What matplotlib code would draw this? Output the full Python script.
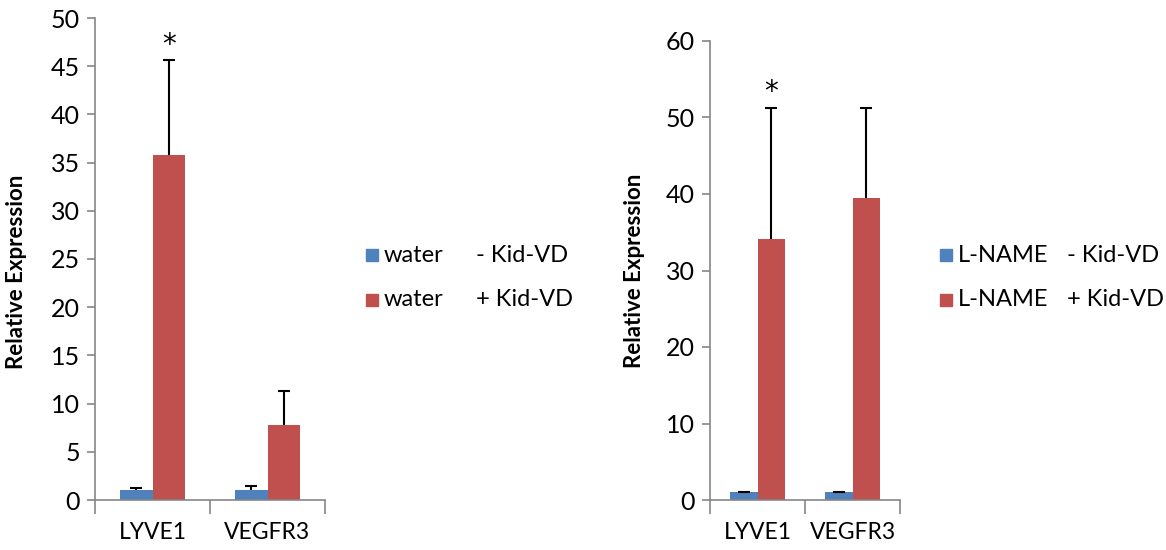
import matplotlib
matplotlib.use("Agg")
import matplotlib.pyplot as plt
from matplotlib.patches import Rectangle
import numpy as np

plt.rcParams['font.family'] = ['Lato', 'DejaVu Sans']

categories = ["LYVE1", "VEGFR3"]

# Left panel (water)
left_series = ["water", "water"]
left_cond = ["- Kid-VD", "+ Kid-VD"]
left_minus = [1.0, 1.0]
left_minus_err = [0.2, 0.5]
left_plus = [35.8, 7.8]
left_plus_err = [9.8, 3.5]
left_yticks = [0, 5, 10, 15, 20, 25, 30, 35, 40, 45, 50]
left_star = [True, False]

# Right panel (L-NAME)
right_series = ["L-NAME", "L-NAME"]
right_cond = ["- Kid-VD", "+ Kid-VD"]
right_minus = [1.0, 1.0]
right_minus_err = [0.05, 0.05]
right_plus = [34.1, 39.5]
right_plus_err = [17.2, 11.8]
right_yticks = [0, 10, 20, 30, 40, 50, 60]
right_star = [True, False]

BLUE = "#4F81BD"
RED = "#C0504D"
AXC = "#868686"

fig = plt.figure(figsize=(11.66, 5.5), dpi=100)
W, H = 1166, 550


def panel(rect, minus, minus_err, plus, plus_err, yticks, star, ylab_x, ylab_y):
    ax = fig.add_axes(rect)
    x = np.arange(len(categories))
    w = 1 / 3.5
    ax.bar(x - w / 2, minus, w, color=BLUE, zorder=2)
    ax.bar(x + w / 2, plus, w, color=RED, zorder=2)
    ekw = dict(fmt='none', ecolor='black', elinewidth=1.5, capsize=4.5, capthick=1.5, zorder=3)
    for xs, vals, errs in [(x - w / 2, minus, minus_err), (x + w / 2, plus, plus_err)]:
        eb = ax.errorbar(xs, vals, yerr=[np.zeros(len(x)), errs], **ekw)
        caps = eb[1]
        if len(caps) == 2:
            caps[0].set_visible(False)
    for i, s in enumerate(star):
        if s:
            ax.annotate("*", (x[i] + w / 2, plus[i] + plus_err[i]), xytext=(0, 11),
                        textcoords='offset points', ha='center', va='center',
                        fontsize=20, family='DejaVu Sans')
    ax.set_xlim(-0.5, len(categories) - 0.5)
    ax.set_ylim(0, yticks[-1])
    ax.set_yticks(yticks)
    ax.tick_params(axis='y', direction='out', length=6, color=AXC, width=1.2,
                   labelsize=18, pad=5)
    ax.set_xticks(np.arange(-0.5, len(categories)), minor=False)
    ax.set_xticklabels([])
    ax.tick_params(axis='x', which='major', direction='out', length=10, color=AXC, width=1.2)
    ax.set_xticks(x, minor=True)
    ax.set_xticklabels(categories, minor=True)
    ax.tick_params(axis='x', which='minor', length=0, labelsize=16.5, pad=16)
    for sp in ['top', 'right']:
        ax.spines[sp].set_visible(False)
    for sp in ['left', 'bottom']:
        ax.spines[sp].set_color(AXC)
        ax.spines[sp].set_linewidth(1.2)
    ax.set_ylabel("Relative Expression", fontsize=16, fontweight='bold')
    ax.yaxis.set_label_coords(ylab_x, ylab_y)
    return ax


axL = panel([95 / W, 50 / H, 230 / W, 482 / H], left_minus, left_minus_err,
            left_plus, left_plus_err, left_yticks, left_star, -0.296, 0.473)
axR = panel([710 / W, 50 / H, 190 / W, 459 / H], right_minus, right_minus_err,
            right_plus, right_plus_err, right_yticks, right_star, -0.342, 0.5)


def legend(x0, xc, names, conds, ys):
    for name, cond, col, yy in zip(names, conds, [BLUE, RED], ys):
        fig.patches.append(Rectangle(((x0 - 6) / W, 1 - (yy + 6) / H), 12 / W, 12 / H,
                                     transform=fig.transFigure, color=col))
        fig.text((x0 + 12) / W, 1 - yy / H, name, fontsize=17, va='center', ha='left')
        fig.text(xc / W, 1 - yy / H, cond, fontsize=17, va='center', ha='left')


legend(372, 476, left_series, left_cond, [255, 300])
legend(946, 1067, right_series, right_cond, [255, 300])

fig.savefig("out.png", dpi=100)
